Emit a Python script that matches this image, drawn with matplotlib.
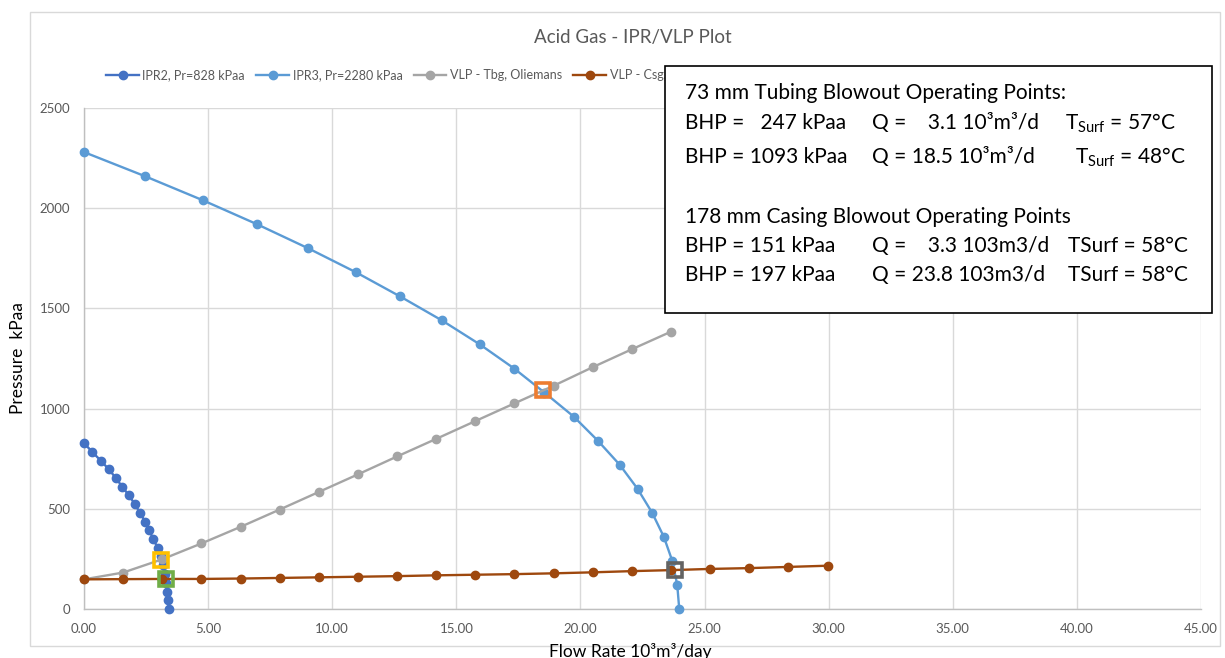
import matplotlib
matplotlib.use('Agg')
import matplotlib.pyplot as plt
from matplotlib.patches import Rectangle

plt.rcParams['font.family'] = ['Lato', 'DejaVu Sans']
plt.rcParams['mathtext.fontset'] = 'custom'
plt.rcParams['mathtext.rm'] = 'Lato'
plt.rcParams['mathtext.it'] = 'Lato:italic'
plt.rcParams['mathtext.bf'] = 'Lato:bold'

# ---------------- data ----------------
ipr2_q = [0.0, 0.33, 0.67, 1.00, 1.28, 1.54, 1.81, 2.05, 2.26, 2.46,
          2.63, 2.79, 2.97, 3.10, 3.18, 3.25, 3.30, 3.35, 3.39, 3.42]
ipr2_p = [828, 784, 741, 697, 654, 610, 567, 523, 479, 436,
          392, 349, 305, 262, 218, 174, 131, 87, 44, 0]

ipr3_q = [0.0, 2.45, 4.78, 6.97, 9.03, 10.96, 12.73, 14.42, 15.95, 17.33,
          18.55, 19.73, 20.70, 21.58, 22.30, 22.89, 23.36, 23.70, 23.90, 23.98]
ipr3_p = [2280, 2160, 2040, 1920, 1800, 1680, 1560, 1440, 1320, 1200,
          1080, 960, 840, 720, 600, 480, 360, 240, 120, 0]

vlp_tbg_q = [0.0, 1.58, 3.15, 4.73, 6.31, 7.88, 9.46, 11.04, 12.61, 14.19,
             15.77, 17.34, 18.92, 20.50, 22.07, 23.65]
vlp_tbg_p = [148, 182, 248, 327, 410, 496, 584, 672, 761, 849,
             938, 1026, 1114, 1207, 1296, 1384]

vlp_csg_q = [0.0, 1.58, 3.16, 4.73, 6.31, 7.88, 9.46, 11.04, 12.61, 14.19,
             15.77, 17.34, 18.92, 20.50, 22.07, 23.65, 25.23, 26.80, 28.38, 29.96]
vlp_csg_p = [148, 149, 150, 150, 152, 155, 158, 161, 164, 168,
             171, 174, 178, 183, 189, 194, 200, 204, 210, 216]

op_q = [3.1, 18.5, 3.3, 23.8]
op_p = [247, 1093, 151, 197]
op_colors = ['#FFC000', '#ED7D31', '#70AD47', '#636363']

x_ticks = [0, 5, 10, 15, 20, 25, 30, 35, 40, 45]
y_ticks = [0, 500, 1000, 1500, 2000, 2500]

series_labels = ['IPR2, Pr=828 kPaa', 'IPR3, Pr=2280 kPaa',
                 'VLP - Tbg, Oliemans', 'VLP - Csg, Oliemans']
series_colors = ['#4472C4', '#5B9BD5', '#A5A5A5', '#9E480E']

# ---------------- figure ----------------
W, H = 1225, 658
fig = plt.figure(figsize=(W / 100, H / 100), dpi=100)
fig.patch.set_facecolor('white')

# outer chart border
fig.add_artist(Rectangle((30 / W, 1 - 646 / H), (1220 - 30) / W, (646 - 12) / H,
                         transform=fig.transFigure, fill=False,
                         edgecolor='#D9D9D9', lw=1.0, zorder=0))

ax = fig.add_axes([84 / W, 1 - 609 / H, (1201 - 84) / W, (609 - 108) / H])
ax.set_xlim(0, 45)
ax.set_ylim(0, 2500)
ax.set_xticks(x_ticks)
ax.set_xticklabels([f'{v:.2f}' for v in x_ticks])
ax.set_yticks(y_ticks)
ax.set_yticklabels([str(v) for v in y_ticks])
ax.grid(True, color='#D9D9D9', lw=1.0)
ax.set_axisbelow(True)
for s in ['top', 'right']:
    ax.spines[s].set_visible(False)
for s in ['left', 'bottom']:
    ax.spines[s].set_color('#BFBFBF')
    ax.spines[s].set_linewidth(1.0)
ax.tick_params(axis='both', length=0, colors='#595959', labelsize=9.5, pad=10)
for lab in ax.get_xticklabels() + ax.get_yticklabels():
    lab.set_color('#595959')

data = [(ipr2_q, ipr2_p), (ipr3_q, ipr3_p), (vlp_tbg_q, vlp_tbg_p), (vlp_csg_q, vlp_csg_p)]
handles = []
for (q, p), c, lab in zip(data, series_colors, series_labels):
    h, = ax.plot(q, p, '-o', color=c, lw=1.7, ms=6, label=lab, clip_on=False, zorder=3)
    handles.append(h)

for q, p, c in zip(op_q, op_p, op_colors):
    ax.plot([q], [p], 's', ms=10.5, mfc='none', mec=c, mew=2.6, zorder=4, clip_on=False)

ax.legend(handles, series_labels, loc='center left',
          bbox_to_anchor=(95 / W, 1 - 75 / H), bbox_transform=fig.transFigure,
          ncol=4, frameon=False, fontsize=9, handlelength=2.6,
          columnspacing=0.9, handletextpad=0.3, labelcolor='#595959')

fig.text(633 / W, 1 - 38 / H, 'Acid Gas - IPR/VLP Plot', ha='center', va='center',
         fontsize=13.5, color='#595959')
fig.text(18 / W, 1 - 358 / H, 'Pressure  kPaa', rotation=90, ha='center', va='center',
         fontsize=12.5, color='black')
fig.text(630 / W, 1 - 651 / H, 'Flow Rate 10³m³/day', ha='center', va='center',
         fontsize=12.5, color='black')

# annotation box
fig.add_artist(Rectangle((665 / W, 1 - 313 / H), (1212 - 665) / W, (313 - 66) / H,
                         transform=fig.transFigure, facecolor='white',
                         edgecolor='black', lw=1.2, zorder=5))
fs = 15
def t(x, y, s, ha='left'):
    fig.text(x / W, 1 - y / H, s, ha=ha, va='center', fontsize=fs,
             color='black', zorder=6)

t(685, 93, '73 mm Tubing Blowout Operating Points:')
t(685, 123, 'BHP =   247 kPaa')
t(872, 123, 'Q =    3.1 10³m³/d')
t(1176, 123, r'T$_{\mathrm{Surf}}$ = 57°C', ha='right')
t(685, 157, 'BHP = 1093 kPaa')
t(872, 157, 'Q = 18.5 10³m³/d')
t(1186, 157, r'T$_{\mathrm{Surf}}$ = 48°C', ha='right')
t(685, 217, '178 mm Casing Blowout Operating Points')
t(685, 246, 'BHP = 151 kPaa')
t(872, 246, 'Q =    3.3 103m3/d')
t(1188, 246, 'TSurf = 58°C', ha='right')
t(685, 275, 'BHP = 197 kPaa')
t(872, 275, 'Q = 23.8 103m3/d')
t(1188, 275, 'TSurf = 58°C', ha='right')

fig.savefig('out.png', dpi=100)
